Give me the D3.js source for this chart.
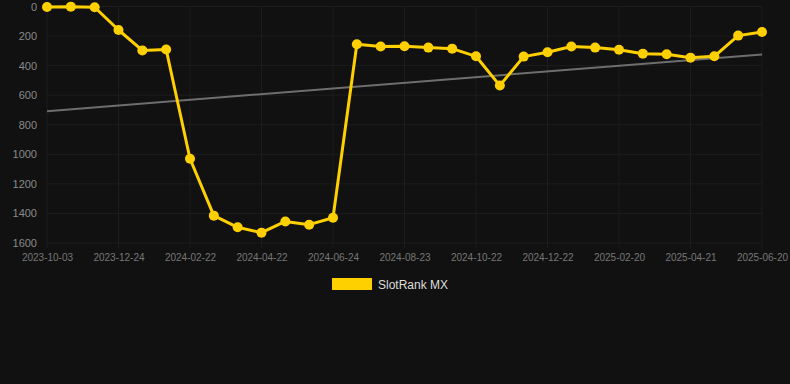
<!DOCTYPE html>
<html>
<head>
<meta charset="utf-8">
<script src="https://cdn.jsdelivr.net/npm/d3@7"></script>
<style>
  html, body { margin: 0; padding: 0; background: #111111; }
  svg { display: block; font-family: "Liberation Sans", Arial, sans-serif; }
</style>
</head>
<body>
<svg id="chart" width="790" height="384"></svg>
<script>
// dates (only every 3rd is shown on the axis)
var dates = [
  '2023-10-03','2023-10-30','2023-11-27','2023-12-24','2024-01-13','2024-02-02',
  '2024-02-22','2024-03-13','2024-04-02','2024-04-22','2024-05-13','2024-06-03',
  '2024-06-24','2024-07-15','2024-08-03','2024-08-23','2024-09-12','2024-10-02',
  '2024-10-22','2024-11-11','2024-12-02','2024-12-22','2025-01-11','2025-01-31',
  '2025-02-20','2025-03-12','2025-04-01','2025-04-21','2025-05-11','2025-05-31',
  '2025-06-20'
];
var ranks = [
  3, 1, 5, 159, 297, 291,
  1030, 1415, 1494, 1530, 1454, 1476,
  1429, 255, 271, 269, 278, 285,
  337, 535, 339, 310, 271, 278,
  292, 319, 323, 346, 337, 197,
  172
];
var yTicks = [0, 200, 400, 600, 800, 1000, 1200, 1400, 1600];
var seriesName = 'SlotRank MX';

var svg = d3.select('#chart');
var plotL = 47, plotR = 762, plotT = 6.5, plotB = 243;

var x = d3.scalePoint().domain(dates).range([plotL, plotR]).padding(0);
var y = d3.scaleLinear().domain([0, 1600]).range([plotT, plotB]);

//grid
var g = svg.append('g');
g.selectAll('.hgrid').data(yTicks).enter().append('line')
  .attr('x1', plotL).attr('x2', plotR)
  .attr('y1', function(d){ return y(d); }).attr('y2', function(d){ return y(d); })
  .attr('stroke', '#1d1d1d').attr('stroke-width', 1);
var shown = dates.filter(function(d, i){ return i % 3 === 0; });
g.selectAll('.vgrid').data(shown).enter().append('line')
  .attr('x1', function(d){ return x(d); }).attr('x2', function(d){ return x(d); })
  .attr('y1', plotT).attr('y2', plotB + 5)
  .attr('stroke', '#1d1d1d').attr('stroke-width', 1);

//axes
var yAxis = svg.append('g').attr('transform', 'translate(' + (plotL - 10) + ',0)')
  .call(d3.axisLeft(y).tickValues(yTicks).tickFormat(d3.format('d')).tickSize(0).tickPadding(0));
yAxis.select('.domain').remove();
yAxis.selectAll('text').attr('fill', '#8a8a8a').style('font-size', '11px');

var xAxis = svg.append('g').attr('transform', 'translate(0,' + (plotB + 11) + ')')
  .call(d3.axisBottom(x).tickValues(shown).tickSize(0).tickPadding(0));
xAxis.select('.domain').remove();
xAxis.selectAll('text').attr('fill', '#777777').style('font-size', '10px');

//trend line (least squares over the ranks)
var n = ranks.length;
var mx = d3.mean(ranks, function(d, i){ return i; });
var my = d3.mean(ranks);
var sxy = d3.sum(ranks, function(d, i){ return (i - mx) * (d - my); });
var sxx = d3.sum(ranks, function(d, i){ return (i - mx) * (i - mx); });
var slope = sxy / sxx;
var trend = [0, n - 1].map(function(i){ return [dates[i], my + slope * (i - mx)]; });
svg.append('path')
  .datum(trend)
  .attr('d', d3.line().x(function(d){ return x(d[0]); }).y(function(d){ return y(d[1]); }))
  .attr('fill', 'none').attr('stroke', '#6e6e6e').attr('stroke-width', 2);

//series
var line = d3.line()
  .x(function(d, i){ return x(dates[i]); })
  .y(function(d){ return y(d); });
svg.append('path')
  .datum(ranks)
  .attr('d', line)
  .attr('fill', 'none').attr('stroke', '#FFD000').attr('stroke-width', 3)
  .attr('stroke-linejoin', 'round');
svg.selectAll('.pt').data(ranks).enter().append('circle')
  .attr('cx', function(d, i){ return x(dates[i]); })
  .attr('cy', function(d){ return y(d); })
  .attr('r', 5)
  .attr('fill', '#FFD000');

//legend
var lg = svg.append('g');
lg.append('rect').attr('x', 332).attr('y', 278).attr('width', 40).attr('height', 12).attr('fill', '#FFD000');
lg.append('text').attr('x', 378).attr('y', 288.5).attr('fill', '#dddddd')
  .style('font-size', '12px').text(seriesName);
</script>
</body>
</html>
